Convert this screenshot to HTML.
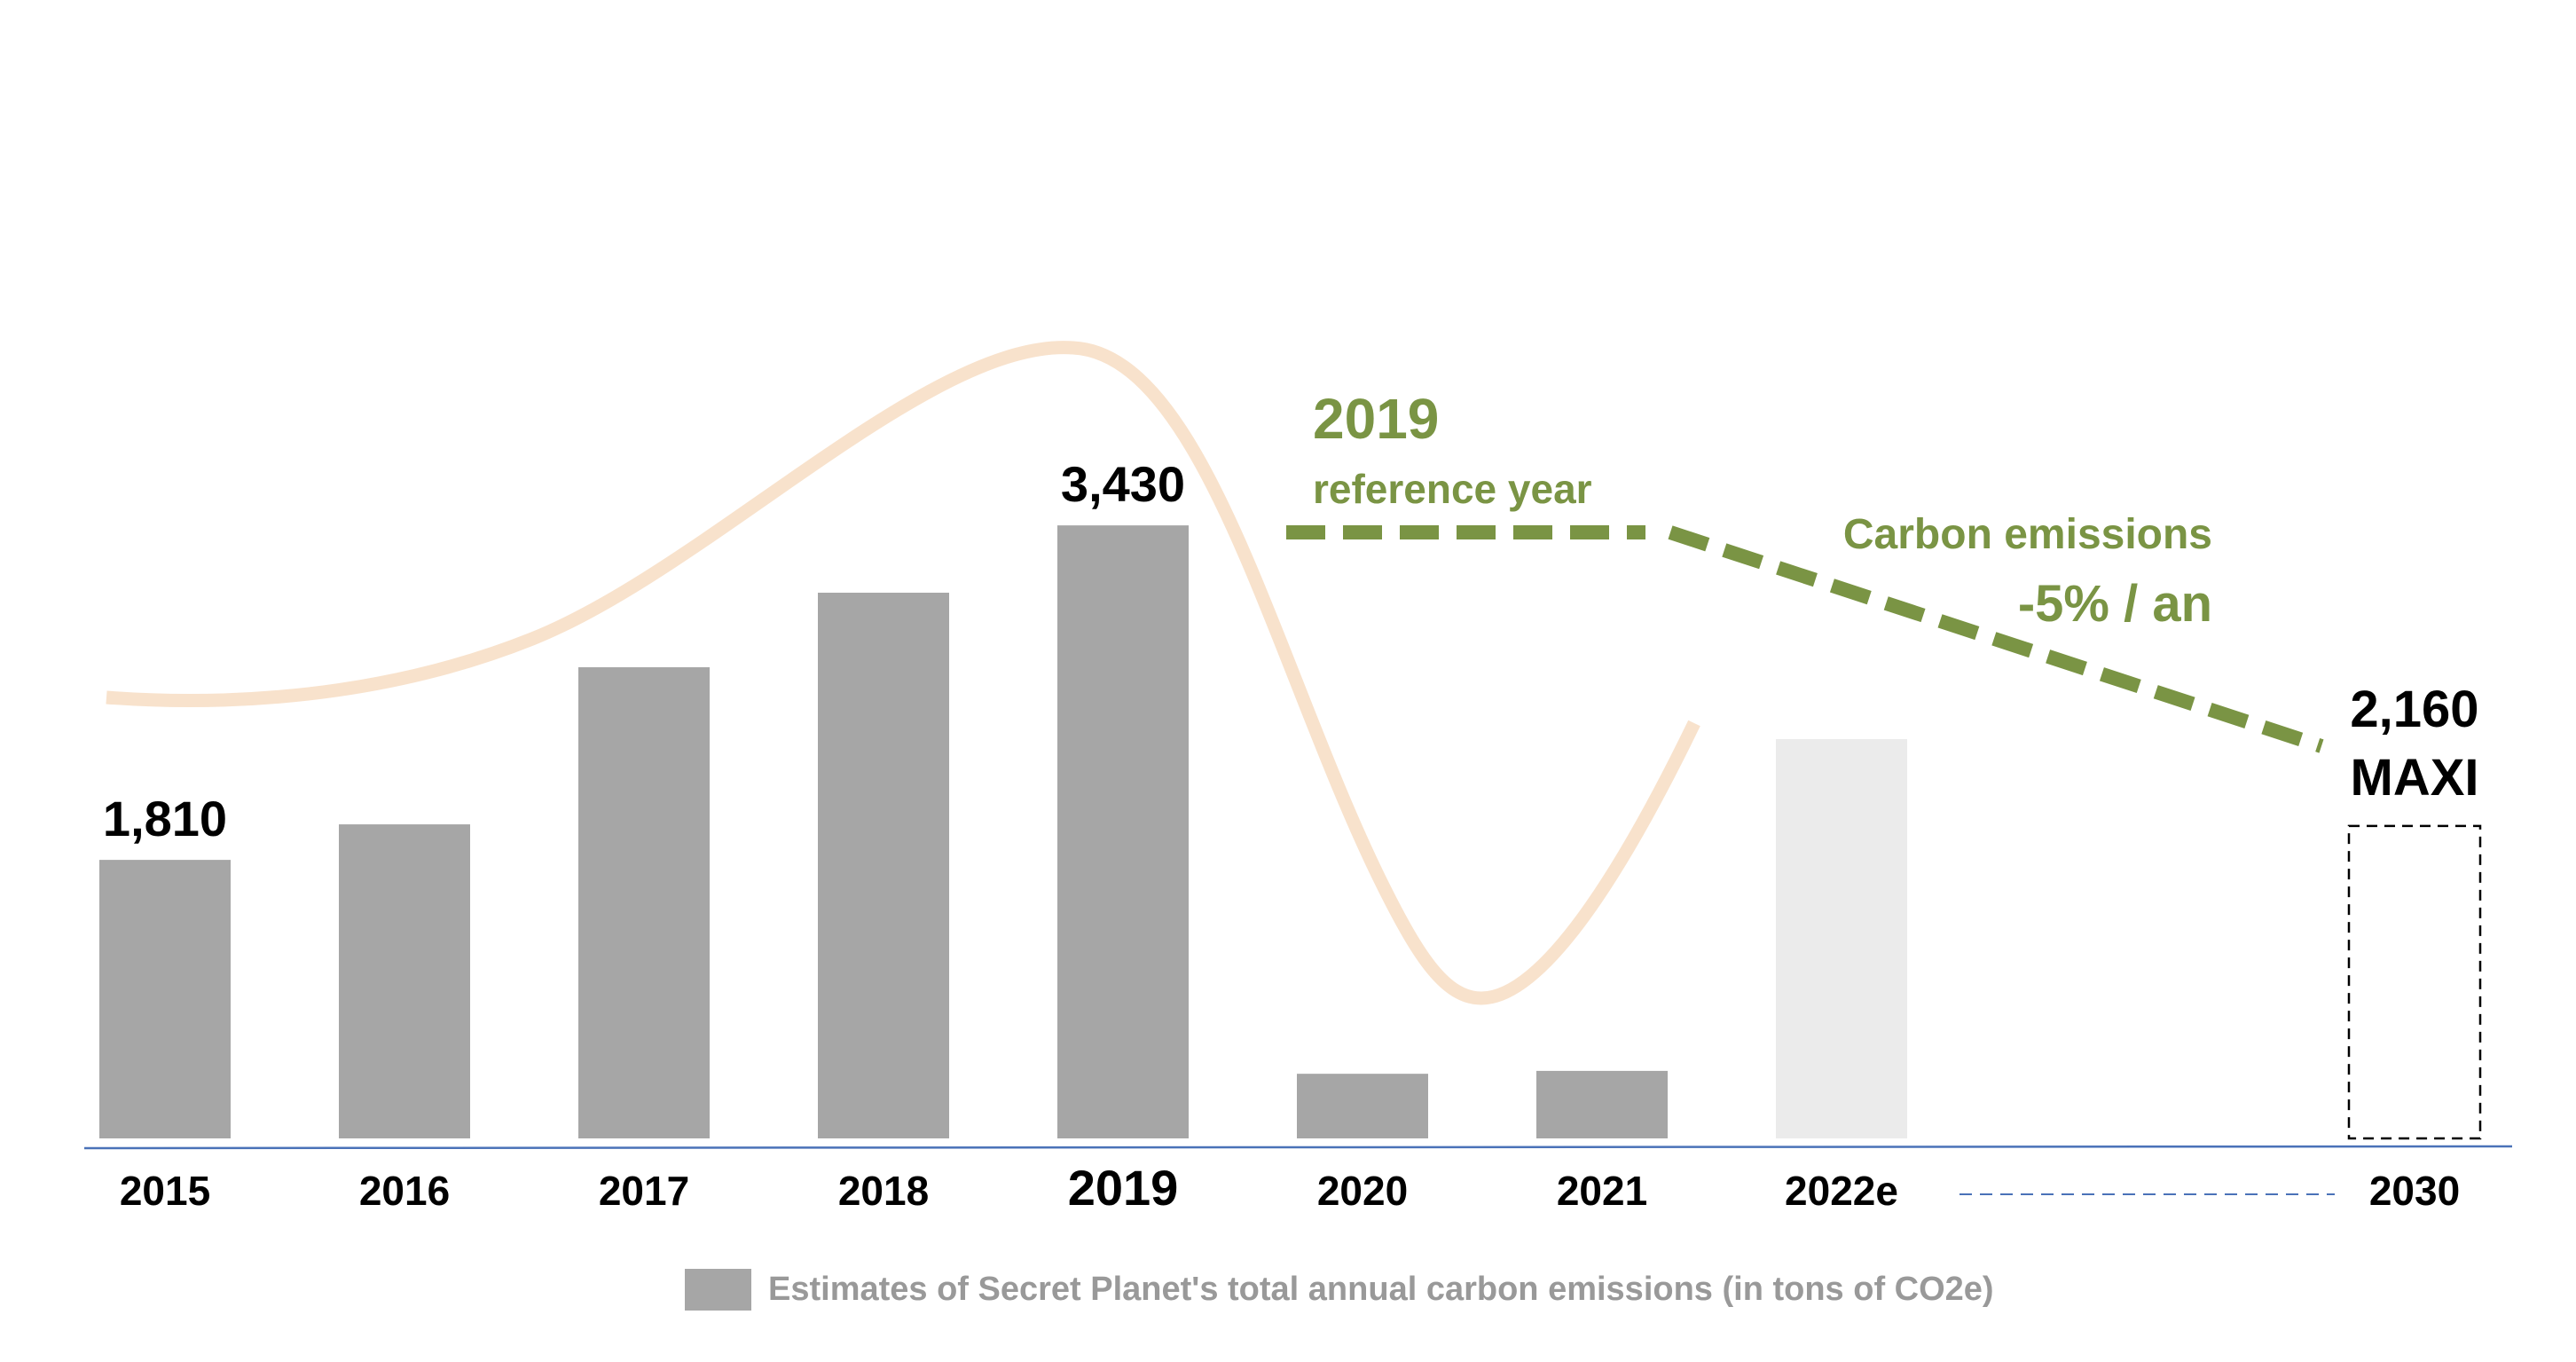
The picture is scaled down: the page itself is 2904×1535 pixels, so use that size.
<!DOCTYPE html>
<html><head><meta charset="utf-8"><style>
html,body{margin:0;padding:0;background:#fff;}
svg{display:block;}
text{font-family:"Liberation Sans Narrow","Liberation Sans",sans-serif;font-weight:bold;}
</style></head><body>
<svg id="chart" width="2904" height="1535" viewBox="0 0 2904 1535" xmlns="http://www.w3.org/2000/svg">
<path d="M120,786 C200,792 400,800 600,720 C800,640 1050,380 1210,392 C1360,400 1440,760 1560,1000 C1600,1080 1630,1125 1670,1125 C1740,1125 1830,980 1910,815" fill="none" stroke="#f8e2cc" stroke-width="15"/>
<g id="bars"></g>
<line x1="95" y1="1294" x2="2832" y2="1292" stroke="#4a72b8" stroke-width="2.5"/>
<line x1="2209" y1="1346" x2="2632" y2="1346" stroke="#4a72b8" stroke-width="2" stroke-dasharray="14,9"/>
<g id="labels"></g>
<path d="M1450,600 L1855,600 M1883,600 L2617,841" fill="none" stroke="#7a9444" stroke-width="16" stroke-dasharray="44,20"/>
<text x="1480" y="494" font-size="64" fill="#7a9444">2019</text>
<text x="1480" y="567" font-size="46" fill="#7a9444">reference year</text>
<text x="2494" y="618" font-size="48" fill="#7a9444" text-anchor="end">Carbon emissions</text>
<text x="2494" y="700" font-size="58" fill="#7a9444" text-anchor="end">-5% / an</text>
<text x="2722" y="819" font-size="58" fill="#000" text-anchor="middle">2,160</text>
<text x="2722" y="896" font-size="58" fill="#000" text-anchor="middle">MAXI</text>
<rect x="772" y="1430" width="75" height="47" fill="#a6a6a6"/>
<text x="866" y="1465" font-size="38" fill="#999">Estimates of Secret Planet's total annual carbon emissions (in tons of CO2e)</text>
</svg>
<script>
const categories = ["2015","2016","2017","2018","2019","2020","2021","2022e","2030"];
const values = [1810, 1982, 2743, 3104, 3430, 774, 788, 2395, 1974];
const printedValues = ["1,810","","","","3,430","","","",""];
const barKinds = ["actual","actual","actual","actual","actual","actual","actual","estimate","target"];

const NS="http://www.w3.org/2000/svg";
const baseY=1283, vMin=461, pxPerUnit=0.2327;
function yScale(v){return baseY-(v-vMin)*pxPerUnit;}
function xScale(i){return i<8 ? 186+i*270 : 2722;}
const barW=148;
const bars=document.getElementById('bars');
const labels=document.getElementById('labels');
categories.forEach((c,i)=>{
  const r=document.createElementNS(NS,'rect');
  const y=yScale(values[i]);
  r.setAttribute('x',xScale(i)-barW/2);
  r.setAttribute('y',y);
  r.setAttribute('width',barW);
  r.setAttribute('height',baseY-y);
  if(barKinds[i]==='target'){
    r.setAttribute('fill','none');r.setAttribute('stroke','#000');
    r.setAttribute('stroke-width','2.5');r.setAttribute('stroke-dasharray','12,8');
  } else r.setAttribute('fill',barKinds[i]==='estimate'?'#ebebeb':'#a6a6a6');
  
  
  bars.appendChild(r);
  const t=document.createElementNS(NS,'text');
  t.setAttribute('x',xScale(i));
  t.setAttribute('y',1358);
  t.setAttribute('text-anchor','middle');
  t.setAttribute('font-size',c==='2019'?'56':'46');
  t.textContent=c;
  
  
  labels.appendChild(t);
  if(printedValues[i]){
    const v=document.createElementNS(NS,'text');
    v.setAttribute('x',xScale(i));
    v.setAttribute('y',y-27);
    v.setAttribute('text-anchor','middle');
    v.setAttribute('font-size','56');
    v.textContent=printedValues[i];
    
    
    labels.appendChild(v);
  }
});
</script>
</body></html>
